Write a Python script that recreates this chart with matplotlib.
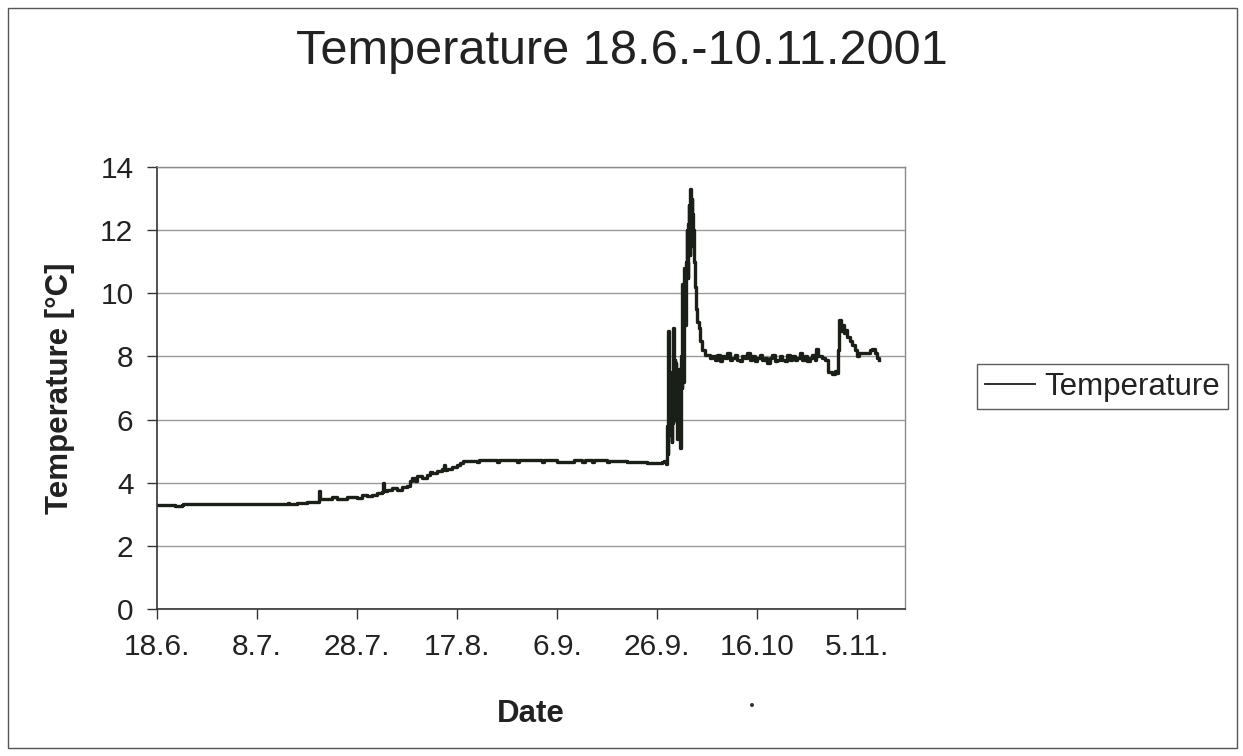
import matplotlib
matplotlib.use("Agg")
import matplotlib.pyplot as plt
from matplotlib.patches import Rectangle, Ellipse

plt.rcParams['font.family'] = ['Liberation Sans', 'DejaVu Sans']

# ---- data (day offsets from 18.6.2001, temperature in degC) ----
days_rise = [0, 3.5, 5, 5.2, 26, 26.1, 26.3, 27.8, 28, 30, 32, 32.3, 32.5, 34, 35, 36,
             38, 40, 41, 42, 43, 44, 45, 45.2, 45.4, 46, 47, 48, 49, 50, 50.6, 51,
             51.5, 52, 53, 54, 54.5, 55, 56, 57, 57.3, 57.5, 58, 59, 60, 60.6]
temp_rise = [3.28, 3.26, 3.29, 3.31, 3.31, 3.36, 3.31, 3.31, 3.37, 3.38, 3.40, 3.75, 3.48,
             3.50, 3.55, 3.50, 3.55, 3.52, 3.60, 3.58, 3.62, 3.68, 3.70, 3.98, 3.75, 3.78,
             3.82, 3.78, 3.85, 3.90, 4.05, 4.15, 4.05, 4.20, 4.15, 4.25, 4.35, 4.30, 4.38,
             4.42, 4.55, 4.40, 4.45, 4.50, 4.55, 4.62]

days_flat = [61.2, 64, 64.3, 68, 68.3, 72, 72.3, 77, 77.4, 80, 83, 83.3, 85, 85.5,
             87, 87.4, 90, 90.3, 94, 98, 101, 101.3]
temp_flat = [4.68, 4.66, 4.72, 4.66, 4.71, 4.65, 4.72, 4.65, 4.71, 4.65, 4.65, 4.71,
             4.66, 4.72, 4.66, 4.71, 4.65, 4.70, 4.65, 4.64, 4.65, 4.70]

days_spike = [101.8, 101.9, 102.0, 102.1, 102.2, 102.3, 102.4, 102.5, 102.6, 102.75,
              102.9, 103.0, 103.1, 103.2, 103.3, 103.4, 103.5, 103.6, 103.7, 103.85,
              104.0, 104.1, 104.2, 104.3, 104.45, 104.6, 104.7, 104.8, 104.9, 105.0,
              105.1, 105.2, 105.3, 105.4, 105.5, 105.6, 105.75, 105.9, 106.0, 106.1,
              106.2, 106.3, 106.4, 106.5, 106.6, 106.7, 106.8, 106.9, 107.0, 107.1,
              107.2, 107.35, 107.5, 107.65, 107.8, 108.0, 108.3, 108.6, 109.0, 109.5]
temp_spike = [4.6, 5.0, 5.8, 4.9, 8.8, 6.5, 5.5, 7.5, 5.8, 7.2,
              5.3, 6.8, 5.9, 8.9, 6.5, 6.0, 7.9, 6.3, 7.8, 6.2,
              5.4, 7.0, 6.1, 7.6, 5.8, 5.1, 6.5, 8.0, 7.0, 10.3,
              8.5, 7.2, 9.5, 10.8, 9.3, 9.0, 11.0, 12.0, 11.0, 10.5,
              12.2, 12.8, 11.8, 11.2, 13.3, 12.0, 11.5, 13.0, 12.5, 11.8,
              12.0, 11.0, 10.5, 10.2, 9.5, 9.1, 8.9, 8.5, 8.2, 8.05]

days_plateau = [110.0, 110.5, 111.0, 111.5, 112.0, 112.5, 113.0, 113.5, 114.0, 114.5,
                115.0, 115.5, 116.0, 116.5, 117.0, 117.5, 118.0, 118.5, 119.0, 119.5,
                120.0, 120.5, 121.0, 121.5, 122.0, 122.5, 123.0, 123.5, 124.0, 124.5,
                125.0, 125.5, 126.0, 126.5, 127.0, 127.5, 128.0, 128.5, 129.0, 129.5,
                130.0, 130.5, 131.0, 131.5]
temp_plateau = [8.05, 7.95, 8.0, 7.9, 8.05, 7.85, 8.0, 7.95, 8.1, 7.9, 7.95, 8.05, 7.9,
                7.85, 8.0, 7.95, 8.1, 7.9, 8.0, 7.85, 7.95, 8.05, 7.9, 7.95, 7.8, 7.95,
                8.05, 7.85, 7.9, 8.0, 7.9, 7.85, 8.05, 7.9, 8.0, 7.9, 7.95, 8.1, 7.9,
                8.0, 7.85, 7.95, 8.05, 7.9]

days_end = [131.8, 132.1, 133.0, 133.6, 134.1, 135.0, 135.5, 136.0, 136.2, 136.4, 136.7,
            137.0, 137.3, 137.6, 138.0, 138.5, 139.0, 139.5, 140.0, 140.3, 141.0, 142.0,
            142.6, 143.0, 143.5, 144.0, 144.3]
temp_end = [8.25, 8.0, 7.95, 7.9, 7.5, 7.45, 7.55, 7.48, 8.2, 9.15, 8.8, 9.0, 8.75,
            8.85, 8.6, 8.5, 8.35, 8.2, 8.0, 8.1, 8.1, 8.1, 8.2, 8.22, 8.1, 7.95, 7.9]

tick_days = [0, 20, 40, 60, 80, 100, 120, 140]
tick_labels = ['18.6.', '8.7.', '28.7.', '17.8.', '6.9.', '26.9.', '16.10', '5.11.']

days = days_rise + days_flat + days_spike + days_plateau + days_end
temps = temp_rise + temp_flat + temp_spike + temp_plateau + temp_end

W, H = 1243, 756
fig = plt.figure(figsize=(W / 100, H / 100), dpi=100)
fig.patch.set_facecolor('white')

ax = fig.add_axes([157 / W, 1 - 609 / H, (905 - 157) / W, (609 - 167) / H])
ax.plot(days, temps, color='#1a1f17', lw=2.4, drawstyle='steps-post',
        label='Temperature')

ax.set_xlim(0, 149.6)
ax.set_ylim(0, 14)
ax.set_yticks(range(0, 15, 2))
ax.set_xticks(tick_days)
ax.set_xticklabels(tick_labels)
ax.tick_params(axis='both', direction='out', length=7, width=1, colors='#333333',
               labelsize=21.5, labelcolor='#222222')
ax.tick_params(axis='y', pad=10)
ax.tick_params(axis='x', pad=10)
ax.grid(axis='y', color='#9a9a9a', lw=1)
ax.set_axisbelow(True)
for s in ['left', 'bottom']:
    ax.spines[s].set_color('#333333')
    ax.spines[s].set_linewidth(1.2)
for s in ['top', 'right']:
    ax.spines[s].set_color('#8a8a8a')
    ax.spines[s].set_linewidth(1)
    ax.spines[s].set_linestyle((0, (2, 1)))

ax.set_xlabel('Date', fontsize=22.5, fontweight='bold', color='#222222', labelpad=28)
ax.set_ylabel('Temperature [°C]', fontsize=22.5, fontweight='bold', color='#222222',
              labelpad=18)

fig.text(622 / W, 1 - 52 / H, 'Temperature 18.6.-10.11.2001', fontsize=35,
         ha='center', va='center', color='#222222')

leg = fig.legend(loc='center left', bbox_to_anchor=(977 / W, 1 - 386.5 / H),
                 fontsize=22.5, frameon=True, fancybox=False, handlelength=1.6,
                 handletextpad=0.3, borderpad=0.25, borderaxespad=0)
leg.get_frame().set_edgecolor('#333333')
leg.get_frame().set_linewidth(1)
for t in leg.get_texts():
    t.set_color('#222222')
for l in leg.get_lines():
    l.set_linewidth(1.3)

fig.patches.append(Rectangle((8 / W, 8 / H), (1237 - 8) / W, (748 - 8) / H,
                             transform=fig.transFigure, fill=False,
                             edgecolor='#555555', lw=1))
fig.patches.append(Ellipse((752 / W, 1 - 705 / H), 4 / W, 4 / H,
                           transform=fig.transFigure,
                           facecolor='#333333', edgecolor='none'))

fig.savefig('out.png', dpi=100, facecolor='white')
